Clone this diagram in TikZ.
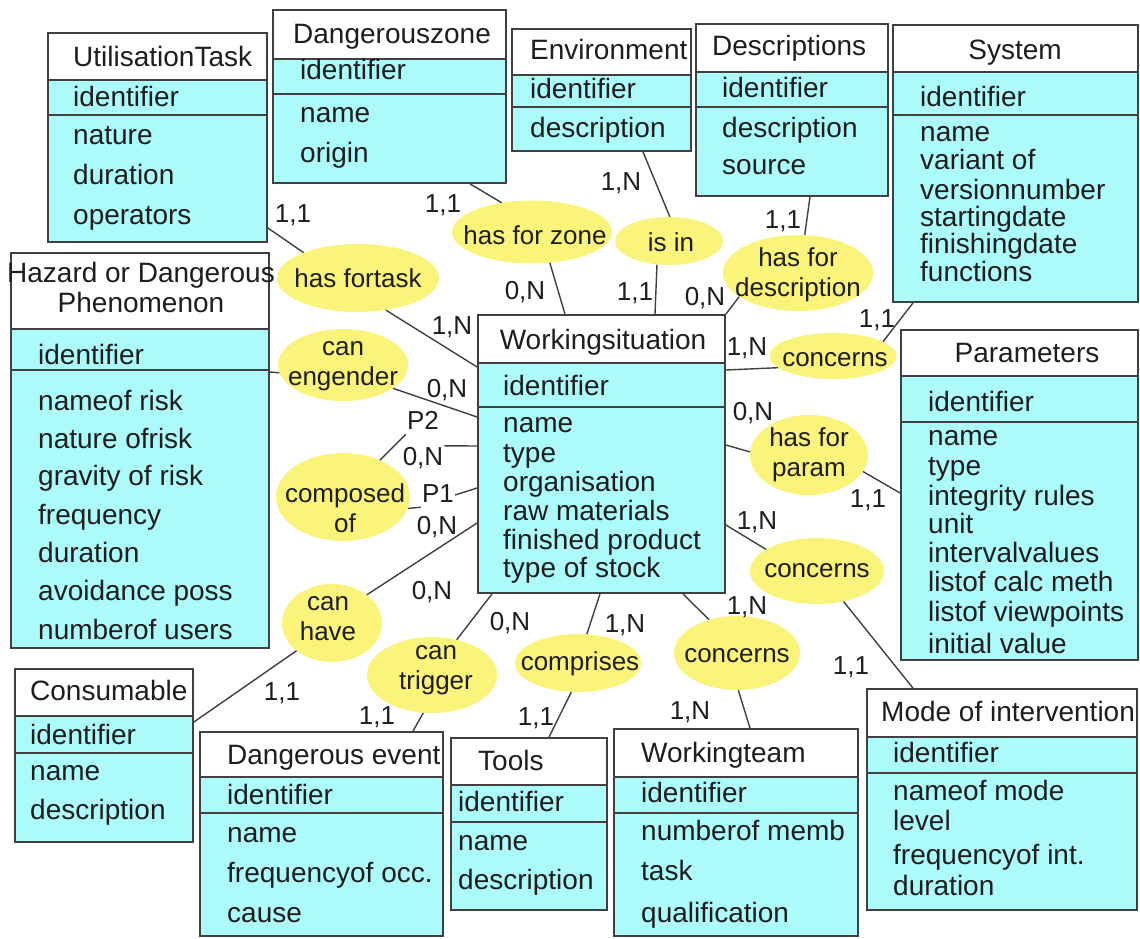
\documentclass[tikz,border=0pt]{standalone}
\usepackage{fontspec}
\setmainfont{Liberation Sans}
\usepackage{tikz}
\usetikzlibrary{shapes.geometric, fit}

\definecolor{keycyan}{RGB}{172,250,250}
\definecolor{relyellow}{RGB}{250,244,122}
\definecolor{linegray}{RGB}{64,64,64}
\definecolor{inkgray}{RGB}{30,30,30}

% entity box: name, left, top, right, bottom, end of header, end of key
\newcommand{\entity}[7]{%
  \fill[keycyan] (#2,#6) rectangle (#4,#5);
  \draw[divider] (#2,#6) -- (#4,#6) (#2,#7) -- (#4,#7);
  \node[entbox, fit={(#2,#3) (#4,#5)}] (#1) {};
}

\begin{document}
\begin{tikzpicture}[x=1pt, y=-1pt]
  \tikzset{
    entbox/.style={draw=linegray, line width=1.8pt, inner sep=0pt},
    divider/.style={linegray, line width=1.5pt},
    attr/.style={anchor=west, inner sep=0pt, text height=20pt, text depth=6pt,
      text=inkgray, font=\fontsize{28}{30}\selectfont},
    enttitle/.style={attr, anchor=center},
    rel/.style={ellipse, fill=relyellow, inner sep=0pt},
    reltext/.style={align=center, inner sep=0pt, text=inkgray,
      font=\fontsize{26}{30}\selectfont},
    card/.style={inner sep=1pt, text height=18pt, text depth=4pt, text=inkgray,
      font=\fontsize{26}{28}\selectfont},
    conn/.style={draw=linegray, line width=1.4pt}
  }
  \useasboundingbox (0,0) rectangle (1140,938);
  \fill[white] (0,0) rectangle (1140,938);

  % entities
  \entity{ut}{48}{33}{267}{242}{80}{115}
  \node[attr] (ut-t) at (73,59) {UtilisationTask};
  \foreach \y/\a in {99/identifier, 137/nature, 177/duration, 217/operators}
    \node[attr] (ut-\y) at (73,\y) {\a};

  \entity{dz}{273}{10}{506}{183}{59}{94}
  \node[attr] (dz-t) at (293,36) {Dangerouszone};
  \foreach \y/\a in {72/identifier, 115/name, 155/origin}
    \node[attr] (dz-\y) at (300,\y) {\a};

  \entity{env}{512}{29}{691}{151}{75}{107}
  \node[attr] (env-t) at (530,52) {Environment};
  \foreach \y/\a in {91/identifier, 130/description}
    \node[attr] (env-\y) at (530,\y) {\a};

  \entity{desc}{696}{24}{888}{196}{72}{107}
  \node[attr] (desc-t) at (712,48) {Descriptions};
  \foreach \y/\a in {90/identifier, 130/description, 167/source}
    \node[attr] (desc-\y) at (722,\y) {\a};

  \entity{sys}{893}{25}{1138}{302}{72}{115}
  \node[enttitle] (sys-t) at (1015,52) {System};
  \foreach \y/\a in {99/identifier, 134/name, 162/variant of, 192/versionnumber,
      219/startingdate, 246/finishingdate, 274/functions}
    \node[attr] (sys-\y) at (920,\y) {\a};

  \entity{hz}{11}{253}{269}{648}{329}{370}
  \node[enttitle] (hz-t1) at (141,275) {Hazard or Dangerous};
  \node[enttitle] (hz-t2) at (141,305) {Phenomenon};
  \foreach \y/\a in {357/identifier, 403/nameof risk, 441/nature ofrisk,
      478/gravity of risk, 517/frequency, 555/duration, 593/avoidance poss,
      632/numberof users}
    \node[attr] (hz-\y) at (38,\y) {\a};

  \entity{ws}{478}{315}{725}{593}{363}{407}
  \node[enttitle] (ws-t) at (603,342) {Workingsituation};
  \foreach \y/\a in {388/identifier, 425/name, 455/type, 484/organisation,
      513/raw materials, 542/finished product, 570/type of stock}
    \node[attr] (ws-\y) at (503,\y) {\a};

  \entity{par}{901}{330}{1138}{660}{376}{422}
  \node[enttitle] (par-t) at (1027,355) {Parameters};
  \foreach \y/\a in {404/identifier, 438/name, 468/type, 498/integrity rules,
      526/unit, 555/intervalvalues, 584/listof calc meth,
      614/listof viewpoints, 646/initial value}
    \node[attr] (par-\y) at (928,\y) {\a};

  \entity{cons}{15}{669}{193}{842}{716}{753}
  \node[attr] (cons-t) at (30,693) {Consumable};
  \foreach \y/\a in {737/identifier, 773/name, 812/description}
    \node[attr] (cons-\y) at (30,\y) {\a};

  \entity{de}{200}{732}{443}{936}{777}{813}
  \node[attr] (de-t) at (227,757) {Dangerous event};
  \foreach \y/\a in {797/identifier, 835/name, 875/frequencyof occ., 915/cause}
    \node[attr] (de-\y) at (227,\y) {\a};

  \entity{tools}{451}{738}{607}{910}{785}{822}
  \node[attr] (tools-t) at (478,763) {Tools};
  \foreach \y/\a in {804/identifier, 843/name, 882/description}
    \node[attr] (tools-\y) at (458,\y) {\a};

  \entity{wt}{614}{729}{858}{936}{777}{813}
  \node[attr] (wt-t) at (641,755) {Workingteam};
  \foreach \y/\a in {795/identifier, 833/numberof memb, 873/task, 915/qualification}
    \node[attr] (wt-\y) at (641,\y) {\a};

  \entity{moi}{867}{689}{1137}{910}{737}{773}
  \node[attr] (moi-t) at (881,714) {Mode of intervention};
  \foreach \y/\a in {755/identifier, 793/nameof mode, 823/level,
      857/frequencyof int., 888/duration}
    \node[attr] (moi-\y) at (893,\y) {\a};

  % relationships
  \node[rel, minimum width=162, minimum height=68] (fortask) at (358,278) {};
  \node[rel, minimum width=160, minimum height=63] (zone) at (532,232) {};
  \node[rel, minimum width=108, minimum height=48] (isin) at (669,241) {};
  \node[rel, minimum width=150, minimum height=76] (hasdesc) at (798,273) {};
  \node[rel, minimum width=127, minimum height=46] (concerns1) at (833,356) {};
  \node[rel, minimum width=118, minimum height=80] (param) at (809,455) {};
  \node[rel, minimum width=134, minimum height=66] (concerns2) at (817,571) {};
  \node[rel, minimum width=126, minimum height=74] (concerns3) at (737,653) {};
  \node[rel, minimum width=126, minimum height=58] (comprises) at (578,663) {};
  \node[rel, minimum width=130, minimum height=76] (cantrigger) at (432,675) {};
  \node[rel, minimum width=100, minimum height=78] (canhave) at (332,623) {};
  \node[rel, minimum width=134, minimum height=88] (composed) at (343,497) {};
  \node[rel, minimum width=130, minimum height=72] (engender) at (343,365) {};

  \node[reltext] (fortask-t) at (fortask) {has fortask};
  \node[reltext] (zone-t) at (535,235) {has for zone};
  \node[reltext] (isin-t) at (671,242) {is in};
  \node[reltext] (hasdesc-t) at (798,275) {has for\\description};
  \node[reltext] (concerns1-t) at (835,360) {concerns};
  \node[reltext] (param-t) at (809,455) {has for\\param};
  \node[reltext] (concerns2-t) at (817,571) {concerns};
  \node[reltext] (concerns3-t) at (737,656) {concerns};
  \node[reltext] (comprises-t) at (580,664) {comprises};
  \node[reltext] (cantrigger-t) at (436,670) {can\\trigger};
  \node[reltext] (canhave-t) at (328,619) {can\\have};
  \node[reltext] (composed-t) at (345,508) {composed\\of};
  \node[reltext] (engender-t) at (343,366) {can\\engender};

  % cardinalities
  \node[card] (c-ut) at (293,215) {1,1};
  \node[card] (c-fortask) at (452,327) {1,N};
  \node[card] (c-dz) at (443,205) {1,1};
  \node[card] (c-zone) at (525,292) {0,N};
  \node[card] (c-env) at (621,183) {1,N};
  \node[card] (c-isin) at (635,293) {1,1};
  \node[card] (c-desc) at (783,221) {1,1};
  \node[card] (c-hasdesc) at (705,298) {0,N};
  \node[card] (c-sys) at (877,320) {1,1};
  \node[card] (c-concerns1) at (747,348) {1,N};
  \node[card] (c-param) at (753,413) {0,N};
  \node[card] (c-par) at (868,500) {1,1};
  \node[card] (c-concerns2) at (757,522) {1,N};
  \node[card] (c-moi) at (851,667) {1,1};
  \node[card] (c-concerns3) at (747,607) {1,N};
  \node[card] (c-wt) at (690,712) {1,N};
  \node[card] (c-comprises) at (625,625) {1,N};
  \node[card] (c-tools) at (536,718) {1,1};
  \node[card] (c-cantrigger) at (510,623) {0,N};
  \node[card] (c-de) at (377,717) {1,1};
  \node[card] (c-canhave) at (432,592) {0,N};
  \node[card] (c-cons) at (282,693) {1,1};
  \node[card] (c-engender) at (447,390) {0,N};
  \node[card] (p2) at (423,422) {P2};
  \node[card] (c-p2) at (423,458) {0,N};
  \node[card] (p1) at (438,495) {P1};
  \node[card] (c-p1) at (437,527) {0,N};

  % connectors
  \path[conn]
    (fortask.155) edge (ut.east |- 0,228)
    (fortask.-49) edge (ws.west |- 0,367)
    (zone.136) edge (dz.south -| 470,0)
    (zone.-60) edge (ws.north -| 565,0)
    (isin.88) edge (env.south -| 643,0)
    (isin.-117) edge (ws.north -| 655,0)
    (hasdesc.80) edge (desc.south -| 810,0)
    (hasdesc.-158) edge (ws.north east)
    (concerns1.16) edge (sys.south -| 913,0)
    (concerns1.-168) edge (ws.east |- 0,370)
    (param.177) edge (ws.east |- 0,445)
    (param.-17) edge (par.west |- 0,493)
    (concerns2.157) edge (ws.east |- 0,525)
    (concerns2.-49) edge (moi.north -| 913,0)
    (concerns3.130) edge (ws.south -| 683,0)
    (concerns3.-88) edge (wt.north -| 750,0)
    (comprises.73) edge (ws.south -| 600,0)
    (comprises.-103) edge (tools.north -| 549,0)
    (cantrigger.55) edge (ws.south -| 492,0)
    (cantrigger.-103) edge (de.north -| 413,0)
    (canhave.39) edge (ws.west |- 0,523)
    (canhave.-142) edge (cons.east |- 0,722)
    (engender.-173) edge (hz.east |- 0,372)
    (engender.-25) edge (ws.west |- 0,417)
    (composed.45) edge (p2.south west)
    (c-p2.north east) edge (ws.west |- 0,446)
    (composed.-10) edge (p1.south west)
    (p1.east) edge (ws.west |- 0,488);
\end{tikzpicture}
\end{document}
